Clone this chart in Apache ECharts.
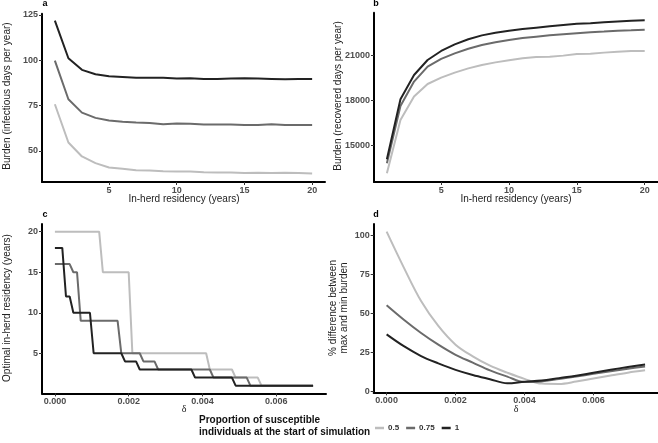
<!DOCTYPE html>
<html>
<head>
<meta charset="utf-8">
<script src="https://cdn.jsdelivr.net/npm/echarts@6/dist/echarts.min.js"></script>
<style>html,body{margin:0;padding:0;background:#fff}#c{width:658px;height:443px}</style>
</head>
<body>
<div id="c"></div>
<script>
// ---- data ----
const groups = ['0.5', '0.75', '1'];
const years = [1,2,3,4,5,6,7,8,9,10,11,12,13,14,15,16,17,18,19,20];
// panel a: burden (infectious days per year)
const aLow  = [75.7,54.6,46.9,43.2,40.8,40.1,39.3,39.2,38.8,38.6,38.6,38.2,38.1,38.1,37.7,37.9,37.7,37.9,37.7,37.5];
const aMid  = [99.8,78.5,71.1,68.2,66.7,66.0,65.6,65.4,64.7,65.1,64.9,64.5,64.5,64.5,64.3,64.2,64.7,64.3,64.3,64.3];
const aHigh = [121.9,101.1,94.7,92.3,91.2,90.8,90.4,90.3,90.3,89.9,90.1,89.7,89.7,89.9,90.1,89.9,89.7,89.5,89.7,89.7];
// panel b: burden (recovered days per year)
const bLow  = [13140,16690,18250,19090,19510,19850,20130,20360,20530,20670,20800,20890,20910,20980,21090,21110,21180,21240,21290,21290];
const bMid  = [13810,17630,19250,20250,20760,21130,21440,21690,21870,22020,22150,22240,22330,22400,22470,22530,22580,22640,22670,22710];
const bHigh = [14074,18070,19690,20690,21290,21730,22070,22330,22510,22640,22750,22840,22930,23020,23110,23130,23200,23260,23310,23330];
// panel c: optimal in-herd residency vs delta (vertices of the polylines)
const cLowD  = [0,0.0012,0.0013,0.0020,0.0021,0.0041,0.0042,0.0048,0.0049,0.0055,0.0056,0.0070];
const cLowV  = [20,20,15,15,5,5,3,3,2,2,1,1];
const cMidD  = [0,0.0004,0.0005,0.0006,0.0007,0.0017,0.0018,0.0023,0.0024,0.0027,0.0028,0.0042,0.0043,0.0052,0.0053,0.0070];
const cMidV  = [16,16,15,15,9,9,5,5,4,4,3,3,2,2,1,1];
const cHighD = [0,0.0002,0.0003,0.0004,0.0005,0.00095,0.00105,0.0018,0.0019,0.0022,0.0023,0.0037,0.0038,0.0048,0.0049,0.0070];
const cHighV = [18,18,12,12,10,10,5,5,4,4,3,3,2,2,1,1];
// panel d: % difference between max and min burden vs delta
const dDelta = [0,0.0005,0.001,0.0015,0.002,0.0025,0.003,0.0035,0.004,0.0045,0.005,0.0055,0.006,0.0065,0.007,0.0075];
const dLow  = [102.6,79.5,58,42,30,22.5,16.5,12,8,5,4.8,6.3,8.3,10.2,12,13.5];
const dMid  = [55.3,46,37.5,30,23.5,18.5,13.5,9.5,6,6.4,7.9,9.5,11.3,12.9,14.5,16];
const dHigh = [36.6,29,22.7,18,13.8,10.5,7.8,5.2,6.2,7,8.5,10,12,13.9,15.6,17.2];
// tick labels
const tickYears = [5,10,15,20];
const tickDelta = [0,0.002,0.004,0.006];
const tickA = [50,75,100,125];
const tickB = [15000,18000,21000];
const tickC = [5,10,15,20];
const tickD = [0,25,50,75,100];

// ---- styles ----
const colors = ['#bdbdbd', '#6b6b6b', '#222222'];
const FONT = "'Liberation Sans', Arial, sans-serif";
const pairs = (xs, ys) => xs.map((x, i) => [x, ys[i]]);
const f3 = v => v.toFixed(3);
const f0 = v => String(v);

function xAx(gi, min, max, ticks, fmt) {
  return {
    type: 'value', gridIndex: gi, min, max, splitLine: {show: false},
    axisLine: {onZero: false, lineStyle: {color: '#000', width: 2}},
    axisTick: {customValues: ticks, length: 3, lineStyle: {color: '#333', width: 1}},
    axisLabel: {customValues: ticks, formatter: fmt, margin: 4, fontSize: 9, fontWeight: 'bold', color: '#4d4d4d', fontFamily: FONT}
  };
}
function yAx(gi, min, max, ticks) {
  return {
    type: 'value', gridIndex: gi, min, max, splitLine: {show: false},
    axisLine: {onZero: false, lineStyle: {color: '#000', width: 2}},
    axisTick: {customValues: ticks, length: 3, lineStyle: {color: '#333', width: 1}},
    axisLabel: {customValues: ticks, formatter: f0, margin: 4, fontSize: 9, fontWeight: 'bold', color: '#4d4d4d', fontFamily: FONT}
  };
}
function ser(gi, name, data, ci, smooth) {
  return {type: 'line', name, xAxisIndex: gi, yAxisIndex: gi, data, showSymbol: false, symbol: 'none',
    smooth: smooth || false, lineStyle: {color: colors[ci], width: 2}, itemStyle: {color: colors[ci]},
    emphasis: {disabled: true}, animation: false, z: 2 + ci};
}

function txt(x, y, text, opts) {
  return Object.assign({type: 'text', x, y, silent: true,
    style: Object.assign({text, fill: '#222', font: '10px ' + FONT, align: 'center', verticalAlign: 'middle'}, opts && opts.style || {})},
    opts && opts.rot ? {rotation: opts.rot} : {});
}

const option = {
  backgroundColor: '#fff',
  animation: false,
  grid: [
    {left: 42, top: 13.7, width: 283, height: 168.3},
    {left: 374, top: 12.7, width: 283.6, height: 169.3},
    {left: 42, top: 224, width: 284, height: 169.4},
    {left: 373.7, top: 224, width: 284.3, height: 168.3}
  ],
  xAxis: [
    xAx(0, 0.05, 20.95, tickYears, f0),
    xAx(1, 0.05, 20.95, tickYears, f0),
    xAx(2, -0.00035, 0.00735, tickDelta, f3),
    xAx(3, -0.000375, 0.007875, tickDelta, f3)
  ],
  yAxis: [
    yAx(0, 32.8, 125.7, tickA),
    yAx(1, 12560, 23840, tickB),
    yAx(2, 0.05, 20.95, tickC),
    yAx(3, -0.6, 107.5, tickD)
  ],
  legend: {
    left: 370, top: 419, icon: 'rect', itemWidth: 9, itemHeight: 2.5, itemGap: 7,
    data: groups, selectedMode: false,
    textStyle: {fontSize: 8, fontWeight: 'bold', color: '#333', fontFamily: FONT, padding: [0, 0, 0, -1]}
  },
  series: [
    ser(0, groups[0], pairs(years, aLow), 0), ser(0, groups[1], pairs(years, aMid), 1), ser(0, groups[2], pairs(years, aHigh), 2),
    ser(1, groups[0], pairs(years, bLow), 0), ser(1, groups[1], pairs(years, bMid), 1), ser(1, groups[2], pairs(years, bHigh), 2),
    ser(2, groups[0], pairs(cLowD, cLowV), 0), ser(2, groups[1], pairs(cMidD, cMidV), 1), ser(2, groups[2], pairs(cHighD, cHighV), 2),
    ser(3, groups[0], pairs(dDelta, dLow), 0, 0.35), ser(3, groups[1], pairs(dDelta, dMid), 1, 0.35), ser(3, groups[2], pairs(dDelta, dHigh), 2, 0.35)
  ],
  graphic: [
    txt(45, 4, 'a', {style: {font: 'bold 9px ' + FONT, fill: '#000'}}),
    txt(376, 4, 'b', {style: {font: 'bold 9px ' + FONT, fill: '#000'}}),
    txt(45, 215, 'c', {style: {font: 'bold 9px ' + FONT, fill: '#000'}}),
    txt(376, 215, 'd', {style: {font: 'bold 9px ' + FONT, fill: '#000'}}),
    txt(7, 96, 'Burden (infectious days per year)', {rot: Math.PI / 2}),
    txt(338, 96, 'Burden (recovered days per year)', {rot: Math.PI / 2}),
    txt(7, 308, 'Optimal in-herd residency (years)', {rot: Math.PI / 2}),
    txt(333, 308, '% difference between', {rot: Math.PI / 2}),
    txt(344, 308, 'max and min burden', {rot: Math.PI / 2}),
    txt(184, 199, 'In-herd residency (years)'),
    txt(516, 199, 'In-herd residency (years)'),
    txt(184, 409, 'δ', {style: {font: '10px \'Liberation Serif\', serif'}}),
    txt(516, 409, 'δ', {style: {font: '10px \'Liberation Serif\', serif'}}),
    txt(199, 420, 'Proportion of susceptible', {style: {font: 'bold 10px ' + FONT, fill: '#111', align: 'left'}}),
    txt(199, 432, 'individuals at the start of simulation', {style: {font: 'bold 10px ' + FONT, fill: '#111', align: 'left'}})
  ]
};
const chart = echarts.init(document.getElementById('c'), null, {renderer: 'canvas'});
chart.setOption(option);
</script>
</body>
</html>
